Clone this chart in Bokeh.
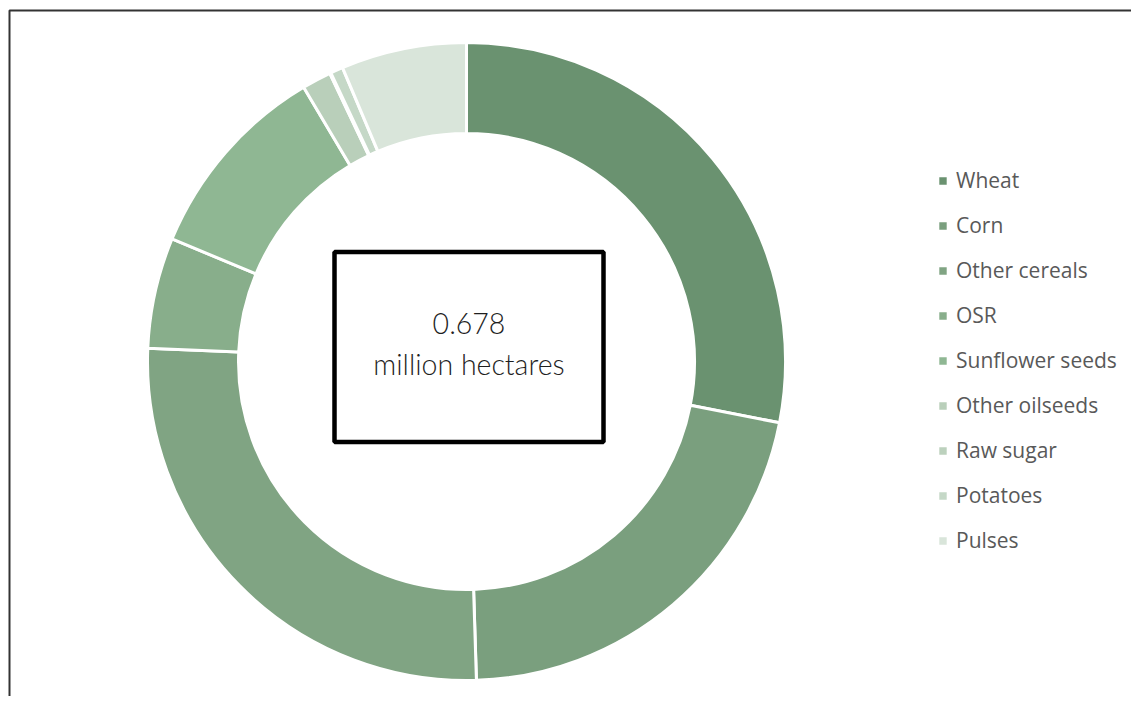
import math
import pandas as pd
from bokeh.plotting import figure
from bokeh.models import Range1d, Legend, LegendItem
from bokeh.core.properties import value
from bokeh.embed import file_html
from bokeh.resources import INLINE

# ---- data (million hectares) ----
categories = ["Wheat", "Corn", "Other cereals", "OSR", "Sunflower seeds",
              "Other oilseeds", "Raw sugar", "Potatoes", "Pulses"]
areas = [0.190, 0.145, 0.177, 0.038, 0.069, 0.010, 0.0004, 0.0043, 0.043]
colors = ["#6a9270", "#7a9f7e", "#80a483", "#88ae8b", "#8fb793",
          "#b9cfba", "#bcd1bd", "#c5d8c7", "#d9e5da"]
total_label = "0.678"
unit_label = "million hectares"

df = pd.DataFrame({"category": categories, "area": areas, "color": colors})
frac = df["area"] / df["area"].sum()
cum_end = frac.cumsum()
cum_start = cum_end - frac
df["start"] = math.pi / 2 - cum_start * 2 * math.pi
df["end"] = math.pi / 2 - cum_end * 2 * math.pi

W, H = 1131, 696
p = figure(width=W, height=H, output_backend="svg", toolbar_location=None,
           x_range=Range1d(-466, W - 466), y_range=Range1d(361 - H, 361),
           min_border=0, min_border_left=0, min_border_right=0,
           min_border_top=0, min_border_bottom=0)
p.axis.visible = False
p.grid.visible = False
p.outline_line_color = None
p.background_fill_color = "white"
p.border_fill_color = "white"

# chart area border (only top/left visible in the window)
p.quad(left=-457, right=3000, top=351, bottom=-3000, fill_color=None,
       line_color="#333333", line_width=2)

r = p.annular_wedge(x=0, y=0, inner_radius=228, outer_radius=319,
                    start_angle="start", end_angle="end", direction="clock",
                    fill_color="color", line_color="white", line_width=3,
                    source=df)

# center box with total
p.quad(left=-132, right=137, top=109.5, bottom=-80.5, fill_color="white",
       line_color="black", line_width=4.5)
p.text(x=[2.5], y=[38], text=[total_label], text_align="center",
       text_baseline="alphabetic", text_font=value("'Lato Light', Lato"),
       text_font_size="28.5px", text_color="#1f1f1f")
p.text(x=[2.5], y=[-2], text=[unit_label], text_align="center",
       text_baseline="alphabetic", text_font=value("'Lato Light', Lato"),
       text_font_size="28.5px", text_color="#1f1f1f")

items = [LegendItem(label=c, renderers=[r], index=i) for i, c in enumerate(categories)]
legend = Legend(items=items, location=(936, 142), orientation="vertical",
                padding=0, margin=0, spacing=17, label_standoff=7,
                glyph_width=13, glyph_height=13, label_height=27,
                label_text_font="Open Sans", label_text_font_size="21px",
                label_text_color="#595959", border_line_color=None,
                background_fill_alpha=0)
p.add_layout(legend)

open("out.html", "w").write(file_html(p, INLINE))
